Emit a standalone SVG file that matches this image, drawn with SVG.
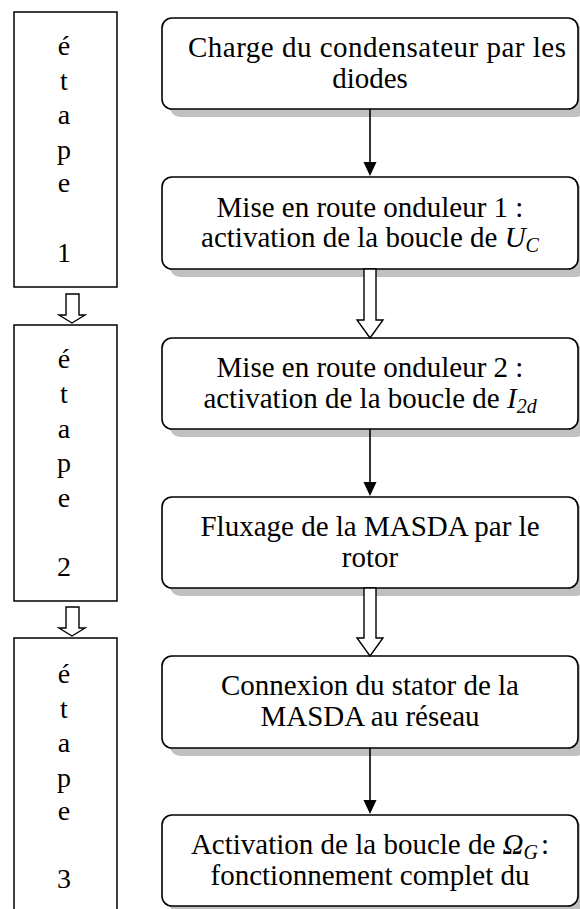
<svg xmlns="http://www.w3.org/2000/svg" width="580" height="909" viewBox="0 0 580 909">
<style>
.box{fill:#fff;stroke:#000;stroke-width:1.6}
.sh{fill:#c0c0c0;stroke:none}
.st{fill:#fff;stroke:#000;stroke-width:1.5}
.t{font-family:"Liberation Serif","Times New Roman",serif;font-size:29px;fill:#000;text-anchor:middle}
.e{font-family:"Liberation Serif","Times New Roman",serif;font-size:28px;fill:#000;text-anchor:middle}
.i{font-style:italic}
.ln{stroke:#000;stroke-width:1.6;fill:none}
.ha{fill:#fff;stroke:#000;stroke-width:1.4;stroke-linejoin:miter}
</style>
<defs>
<marker id="ah" markerWidth="14" markerHeight="15" refX="0" refY="7" orient="auto" markerUnits="userSpaceOnUse" viewBox="0 0 15 14">
<path d="M0,0 L15,7 L0,14 z" fill="#000"/>
</marker>
</defs>
<rect width="580" height="909" fill="#fff"/>

<g id="etape1">
<rect class="st" x="14" y="12" width="103" height="275"/>
<text class="e" x="64" y="55">é</text>
<text class="e" x="64" y="90">t</text>
<text class="e" x="64" y="124">a</text>
<text class="e" x="64" y="159">p</text>
<text class="e" x="64" y="192">e</text>
<text class="e" x="64" y="262">1</text>
</g>
<g id="etape2">
<rect class="st" x="14" y="325" width="103" height="276"/>
<text class="e" x="64" y="368">é</text>
<text class="e" x="64" y="403">t</text>
<text class="e" x="64" y="438">a</text>
<text class="e" x="64" y="472">p</text>
<text class="e" x="64" y="507">e</text>
<text class="e" x="64" y="576">2</text>
</g>
<g id="etape3">
<rect class="st" x="14" y="638" width="103" height="290"/>
<text class="e" x="64" y="683">é</text>
<text class="e" x="64" y="718">t</text>
<text class="e" x="64" y="752">a</text>
<text class="e" x="64" y="787">p</text>
<text class="e" x="64" y="820">e</text>
<text class="e" x="64" y="888">3</text>
</g>

<g id="n1">
<rect class="sh" x="170" y="26" width="416" height="91" rx="10"/>
<rect class="box" x="162" y="18" width="416" height="91" rx="10"/>
<text class="t" x="377" y="57" textLength="378" lengthAdjust="spacing">Charge du condensateur par les</text>
<text class="t" x="370" y="88">diodes</text>
</g>
<g id="n2">
<rect class="sh" x="170" y="185" width="416" height="92" rx="10"/>
<rect class="box" x="162" y="177" width="416" height="92" rx="10"/>
<text class="t" x="370" y="217">Mise en route onduleur 1 :</text>
<text class="t" x="370" y="247">activation de la boucle de <tspan class="i">U</tspan><tspan class="i" font-size="20" dy="5">C</tspan></text>
</g>
<g id="n3">
<rect class="sh" x="170" y="346" width="416" height="91" rx="10"/>
<rect class="box" x="162" y="338" width="416" height="91" rx="10"/>
<text class="t" x="370" y="377">Mise en route onduleur 2 :</text>
<text class="t" x="370" y="408">activation de la boucle de <tspan class="i">I</tspan><tspan class="i" font-size="20" dy="5">2d</tspan></text>
</g>
<g id="n4">
<rect class="sh" x="170" y="505" width="416" height="91" rx="10"/>
<rect class="box" x="162" y="497" width="416" height="91" rx="10"/>
<text class="t" x="370" y="536">Fluxage de la MASDA par le</text>
<text class="t" x="370" y="567">rotor</text>
</g>
<g id="n5">
<rect class="sh" x="170" y="664" width="416" height="92" rx="10"/>
<rect class="box" x="162" y="656" width="416" height="92" rx="10"/>
<text class="t" x="370" y="695">Connexion du stator de la</text>
<text class="t" x="370" y="726">MASDA au réseau</text>
</g>
<g id="n6">
<rect class="sh" x="170" y="823" width="416" height="91" rx="10"/>
<rect class="box" x="162" y="815" width="416" height="91" rx="10"/>
<text class="t" x="370" y="854">Activation de la boucle de <tspan class="i">Ω</tspan><tspan class="i" font-size="20" dy="5">G</tspan><tspan dx="3" dy="-5">:</tspan></text>
<text class="t" x="370" y="885">fonctionnement complet du</text>
</g>

<g id="connectors">
<line class="ln" x1="370" y1="109" x2="370" y2="162" marker-end="url(#ah)"/>
<polygon class="ha" points="364,269 376,269 376,320 383,320 370,338 357,320 364,320"/>
<line class="ln" x1="370" y1="429" x2="370" y2="482" marker-end="url(#ah)"/>
<polygon class="ha" points="364,588 376,588 376,638 383,638 370,656 357,638 364,638"/>
<line class="ln" x1="370" y1="748" x2="370" y2="800" marker-end="url(#ah)"/>
<polygon class="ha" points="66,294 79,294 79,315 85,315 72,323 59,315 66,315"/>
<polygon class="ha" points="66,607 79,607 79,628 85,628 72,636 59,628 66,628"/>
</g>
</svg>
